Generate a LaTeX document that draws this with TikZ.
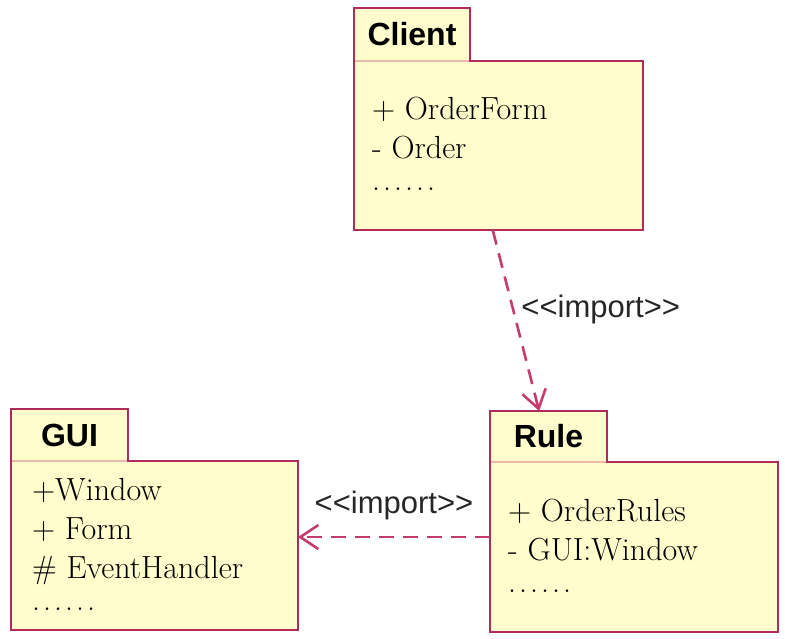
\documentclass[tikz,border=0pt]{standalone}
\usepackage{fontspec}
\usepackage{xcolor}
\usepackage{tikz}
\usetikzlibrary{arrows.meta,positioning,calc}
\newfontfamily\headfont{Liberation Sans}
\definecolor{pkgline}{HTML}{B02A5B}
\definecolor{pkgfill}{HTML}{FFFDCB}
\definecolor{pkgsep}{HTML}{EBB9AB}
\definecolor{deparrow}{HTML}{C43C6E}
\newcommand{\moredots}{.\kern3pt.\kern3pt.\kern3pt.\kern3pt.\kern3pt.}

\begin{document}
\begin{tikzpicture}[x=1pt,y=-1pt,
  pkgbody/.style={draw=pkgline, fill=pkgfill, line width=2.6pt, rectangle, anchor=north west, inner sep=0pt, outer sep=0pt},
  pkgtab/.style={pkgbody, anchor=south west, font=\headfont\bfseries\fontsize{32}{32}\selectfont},
  members/.style={anchor=base west, align=left, inner sep=0pt, font=\fontsize{32}{39}\selectfont},
  dep/.style={draw=deparrow, line width=2.6pt, dash pattern=on 15pt off 9pt, -{Straight Barb[length=18pt,width=24pt]}},
  stereo/.style={font=\headfont\fontsize{31}{31}\selectfont, text=black!85}]
\useasboundingbox (0,0) rectangle (785,638);

% Client package
\node[pkgbody, minimum width=289pt, minimum height=169pt] (client) at (354,61) {};
\node[pkgtab, minimum width=116pt, minimum height=53pt] (client-tab) at (client.north west) {Client};
\draw[pkgsep, line width=2.4pt] ([xshift=1.3pt]client-tab.south west) -- ([xshift=-1.3pt]client-tab.south east);
\node[members] (client-list) at (372,190) {+ OrderForm\\- Order\\[-7pt]\moredots};

% GUI package
\node[pkgbody, minimum width=287pt, minimum height=169pt] (gui) at (11,461) {};
\node[pkgtab, minimum width=117pt, minimum height=52pt] (gui-tab) at (gui.north west) {GUI};
\draw[pkgsep, line width=2.4pt] ([xshift=1.3pt]gui-tab.south west) -- ([xshift=-1.3pt]gui-tab.south east);
\node[members] (gui-list) at (32,610) {+Window\\+ Form\\\# EventHandler\\[-7pt]\moredots};

% Rule package
\node[pkgbody, minimum width=288pt, minimum height=170pt] (rule) at (490,462) {};
\node[pkgtab, minimum width=117pt, minimum height=51pt] (rule-tab) at (rule.north west) {Rule};
\draw[pkgsep, line width=2.4pt] ([xshift=1.3pt]rule-tab.south west) -- ([xshift=-1.3pt]rule-tab.south east);
\node[members] (rule-list) at (508,592) {+ OrderRules\\- GUI:Window\\[-7pt]\moredots};

% dependencies
\draw[dep] ($(client.south west)!.48!(client.south east)$) -- node[stereo, pos=.44, anchor=west, inner sep=7pt] (imp1) {<<import>>} ($(rule-tab.north west)!.42!(rule-tab.north east)$);
\draw[dep] ([yshift=10pt]rule.west) -- node[stereo, above=12pt] (imp2) {<<import>>} ([yshift=10pt]rule.west -| gui.east);
\end{tikzpicture}
\end{document}
